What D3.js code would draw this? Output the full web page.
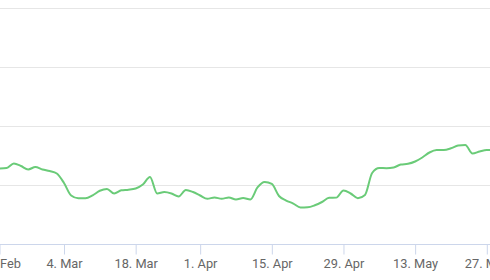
<!DOCTYPE html>
<html>
<head>
<meta charset="utf-8">
<script src="https://cdn.jsdelivr.net/npm/d3@7"></script>
<style>
  html, body { margin: 0; padding: 0; background: #fff; }
  svg { display: block; }
  text { font-family: Roboto, "Liberation Sans", Arial, sans-serif; }
</style>
</head>
<body>
<div id="chart"></div>
<script>
// Daily (trading-day) values, index 0 = 19. Feb
const values = [
  1.280, 1.288, 1.364, 1.322, 1.263, 1.305, 1.263, 1.237, 1.195, 1.034,
  0.822, 0.775, 0.775, 0.825, 0.902, 0.932, 0.856, 0.910, 0.920, 0.941,
  1.008, 1.136, 0.856, 0.881, 0.856, 0.805, 0.915, 0.881, 0.822, 0.766,
  0.788, 0.768, 0.788, 0.754, 0.780, 0.754, 0.958, 1.051, 1.017, 0.814,
  0.737, 0.686, 0.619, 0.622, 0.656, 0.712, 0.783, 0.786, 0.907, 0.856,
  0.776, 0.831, 1.203, 1.288, 1.285, 1.297, 1.347, 1.359, 1.398, 1.466,
  1.551, 1.593, 1.593, 1.622, 1.669, 1.678, 1.534, 1.568, 1.593, 1.593
];
const tickIndex = [0, 9, 19, 28, 38, 48, 58, 68];
const tickLabels = ["19. Feb", "4. Mar", "18. Mar", "1. Apr", "15. Apr", "29. Apr", "13. May", "27. May"];
const yTicks = [0, 1, 2, 3, 4];

const W = 490, H = 280;
const svg = d3.select("#chart").append("svg").attr("width", W).attr("height", H);

const x = d3.scaleLinear().domain([0, 68]).range([-0.5, 486.8]);
const y = d3.scaleLinear().domain([0, 4]).range([244, 8]);

// grid lines
svg.append("g").selectAll("line").data(yTicks.filter(d => d > 0)).join("line")
  .attr("x1", 0).attr("x2", W)
  .attr("y1", d => Math.round(y(d)) + 0.5).attr("y2", d => Math.round(y(d)) + 0.5)
  .attr("stroke", "#e6e6e6").attr("stroke-width", 1);

// x axis
const xAxis = d3.axisBottom(x)
  .tickValues(tickIndex)
  .tickFormat((d, i) => tickLabels[i])
  .tickSize(10)
  .tickSizeOuter(0);
const gx = svg.append("g").attr("transform", "translate(0,244.5)").call(xAxis);
gx.select(".domain").attr("stroke", "#ccd6eb").attr("d", `M0,0H${W}`);
gx.selectAll(".tick line").attr("stroke", "#ccd6eb");
gx.selectAll(".tick text").attr("fill", "#666666").attr("font-size", "12.8px").attr("dy", "0.95em").attr("y", 11);

// line
const line = d3.line()
  .x((d, i) => x(i))
  .y(d => y(d))
  .curve(d3.curveMonotoneX);
svg.append("path").datum(values)
  .attr("d", line)
  .attr("fill", "none")
  .attr("stroke", "#6acb78")
  .attr("stroke-width", 2)
  .attr("stroke-linejoin", "round")
  .attr("stroke-linecap", "round");
</script>
</body>
</html>
